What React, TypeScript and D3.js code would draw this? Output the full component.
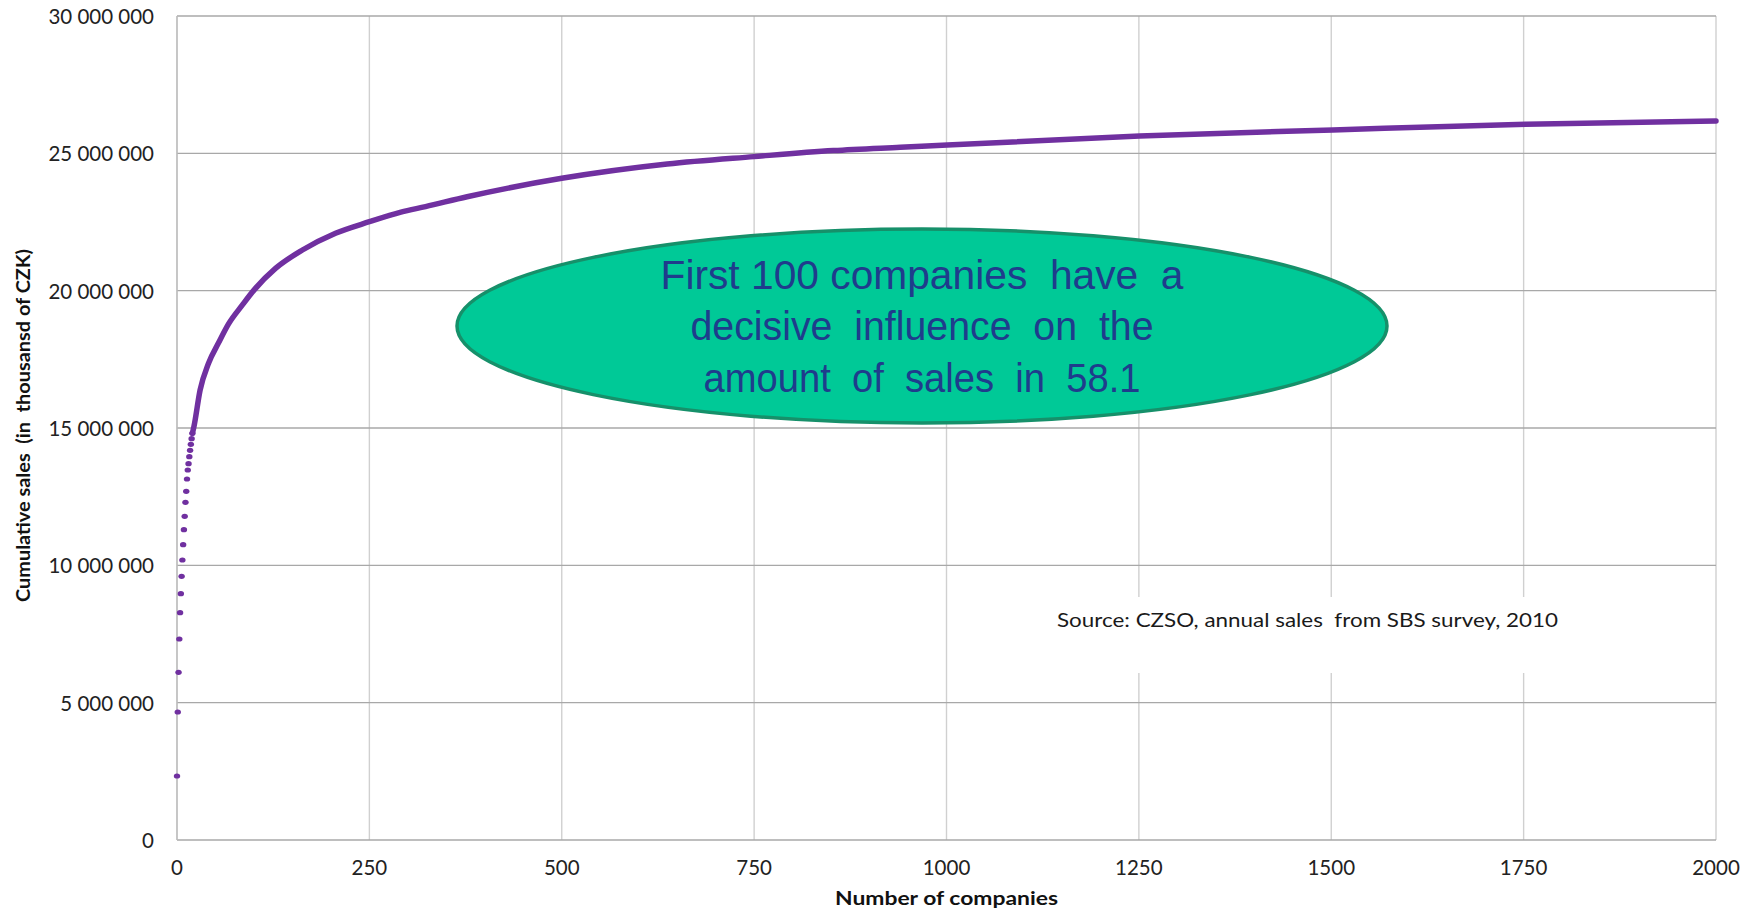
import React from "react";
import * as d3 from "d3";

// Y ticks (thousand CZK) and X ticks (number of companies)
const Y_TICKS = [0, 5000000, 10000000, 15000000, 20000000, 25000000, 30000000];
const X_TICKS = [0, 250, 500, 750, 1000, 1250, 1500, 1750, 2000];

// First companies, drawn as individual markers (cumulative sales, thousand CZK)
const EARLY_SALES = [
  2330000, 4660000, 6105000, 7318000, 8276000, 8967000, 9601000, 10194000,
  10751000, 11297000, 11785000, 12295000, 12695000, 13143000, 13471000,
  13700000, 13955000, 14188000, 14407000, 14611000, 14807000,
];

// Readings along the dense part of the curve
const CURVE_COMPANIES = [
  20, 22, 30, 41, 54, 67, 85, 100, 128, 163, 206, 250, 291, 323, 377, 500,
  637, 750, 853, 940, 1001, 1251, 1502, 1753, 2000,
];
const CURVE_SALES = [
  14807000, 15050000, 16380000, 17360000, 18100000, 18790000, 19480000,
  20020000, 20810000, 21480000, 22090000, 22510000, 22860000, 23060000,
  23420000, 24090000, 24610000, 24880000, 25100000, 25220000, 25300000,
  25630000, 25850000, 26060000, 26180000,
];

const NOTE_LINES = [
  "First 100 companies  have  a",
  "decisive  influence  on  the",
  "amount  of  sales  in  58.1",
];
const NOTE_WIDTHS = [523, 463, 437];
const SOURCE_TEXT = "Source: CZSO, annual sales  from SBS survey, 2010";

const W = 1758;
const H = 911;
const LEFT = 177;
const RIGHT = 1716;
const TOP = 16;
const BOTTOM = 840;
const PURPLE = "#7030a0";
const FONT = "Lato, 'Open Sans', sans-serif";

const fmt = (v: number) => d3.format(",")(v).replace(/,/g, " ");

export default function App() {
  const x = d3.scaleLinear().domain([0, 2000]).range([LEFT, RIGHT]);
  const y = d3.scaleLinear().domain([0, 30000000]).range([BOTTOM, TOP]);

  const curve = CURVE_COMPANIES.map((c, i) => [c, CURVE_SALES[i]] as [number, number]);
  const line = d3
    .line<[number, number]>()
    .x((d) => x(d[0]))
    .y((d) => y(d[1]))
    .curve(d3.curveMonotoneX);

  const noteCx = 922;
  const noteCy = 326;
  const lineGap = 51.5;

  return (
    <svg
      width={W}
      height={H}
      style={{ position: "absolute", left: 0, top: 0, background: "#fff" }}
    >
      <rect x={0} y={0} width={W} height={H} fill="#fff" />
      {/* vertical grid */}
      {X_TICKS.map((t) => (
        <line
          key={"vx" + t}
          x1={x(t)}
          x2={x(t)}
          y1={TOP}
          y2={BOTTOM}
          stroke="#d0d0d0"
          strokeWidth={1.4}
        />
      ))}
      {/* horizontal grid */}
      {Y_TICKS.map((t) => (
        <line
          key={"hy" + t}
          x1={LEFT}
          x2={RIGHT}
          y1={y(t)}
          y2={y(t)}
          stroke="#a8a8a8"
          strokeWidth={1.3}
        />
      ))}
      <line x1={LEFT} x2={LEFT} y1={TOP} y2={BOTTOM} stroke="#bdbdbd" strokeWidth={1.4} />

      {/* source box */}
      <rect x={1045} y={597} width={525} height={76} fill="#fff" />
      <text
        x={1057}
        y={619}
        fontFamily={FONT}
        fontSize={20}
        fill="#1a1a1a"
        dominantBaseline="central"
        textLength={501}
        lengthAdjust="spacingAndGlyphs"
        style={{ whiteSpace: "pre" }}
      >
        {SOURCE_TEXT}
      </text>

      {/* curve */}
      <path
        d={line(curve) || ""}
        fill="none"
        stroke={PURPLE}
        strokeWidth={5.5}
        strokeLinecap="round"
        strokeLinejoin="round"
      />
      {EARLY_SALES.map((v, i) => (
        <ellipse key={"e" + i} cx={x(i)} cy={y(v)} rx={3.2} ry={2.6} fill={PURPLE} />
      ))}

      {/* annotation ellipse */}
      <ellipse
        cx={noteCx}
        cy={noteCy}
        rx={465}
        ry={97}
        fill="#00c997"
        stroke="#16906a"
        strokeWidth={3.5}
      />
      {NOTE_LINES.map((t, i) => (
        <text
          key={"n" + i}
          x={noteCx}
          y={noteCy + (i - 1) * lineGap}
          textAnchor="middle"
          dominantBaseline="central"
          fontFamily="'Liberation Sans Narrow', 'Arial Narrow', 'Liberation Sans', Arial, sans-serif"
          fontSize={41}
          fill="#1f3c8c"
          textLength={NOTE_WIDTHS[i]}
          lengthAdjust="spacingAndGlyphs"
          style={{ whiteSpace: "pre" }}
        >
          {t}
        </text>
      ))}

      {/* y tick labels */}
      {Y_TICKS.map((t) => (
        <text
          key={"yl" + t}
          x={154}
          y={y(t)}
          textAnchor="end"
          dominantBaseline="central"
          fontFamily={FONT}
          fontSize={20.5}
          fill="#222"
        >
          {fmt(t)}
        </text>
      ))}
      {/* x tick labels */}
      {X_TICKS.map((t) => (
        <text
          key={"xl" + t}
          x={x(t)}
          y={875}
          textAnchor="middle"
          fontFamily={FONT}
          fontSize={20.5}
          fill="#222"
        >
          {t}
        </text>
      ))}

      {/* axis titles */}
      <text
        x={946.5}
        y={905}
        textAnchor="middle"
        fontFamily={FONT}
        fontWeight="bold"
        fontSize={19}
        fill="#111"
        textLength={223}
        lengthAdjust="spacingAndGlyphs"
      >
        Number of companies
      </text>
      <text
        transform={`translate(23, ${425.5}) rotate(-90)`}
        textAnchor="middle"
        dominantBaseline="central"
        fontFamily={FONT}
        fontWeight="bold"
        fontSize={18}
        fill="#111"
        textLength={353}
        lengthAdjust="spacingAndGlyphs"
        style={{ whiteSpace: "pre" }}
      >
        {"Cumulative sales  (in  thousansd of CZK)"}
      </text>
    </svg>
  );
}
